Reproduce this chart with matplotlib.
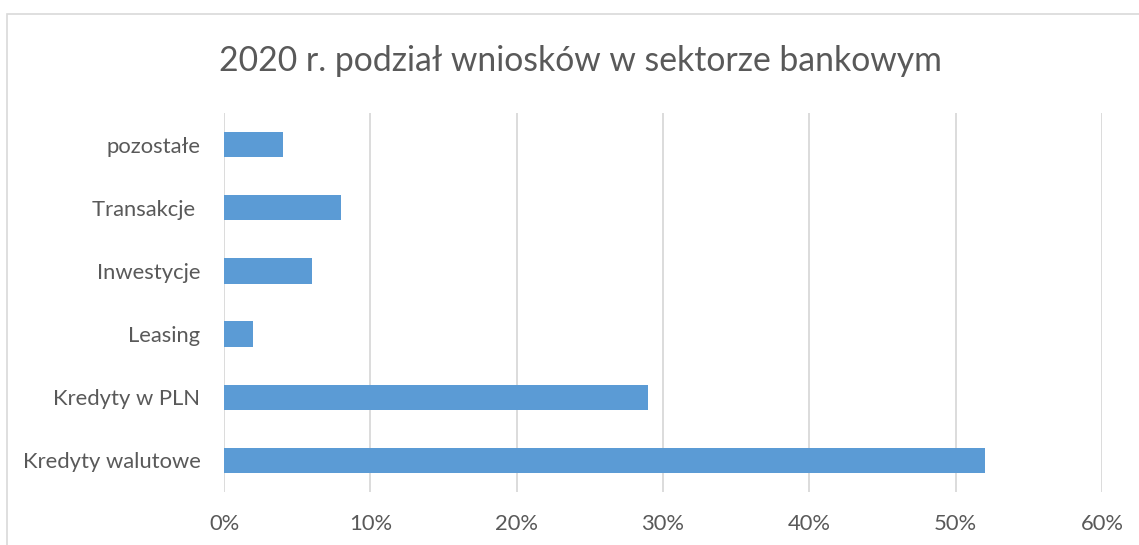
import matplotlib
matplotlib.use("Agg")
import matplotlib.pyplot as plt
from matplotlib.patches import Rectangle
from matplotlib.ticker import FuncFormatter, MultipleLocator

plt.rcParams['font.family'] = ['Lato', 'DejaVu Sans']

categories = ['Kredyty walutowe', 'Kredyty w PLN', 'Leasing', 'Inwestycje',
              'Transakcje ', 'pozostałe']
shares = [52, 29, 2, 6, 8, 4]
title = '2020 r. podział wniosków w sektorze bankowym'

text_color = '#595959'
bar_color = '#5B9BD5'
grid_color = '#D9D9D9'

W, H = 1139, 545
fig = plt.figure(figsize=(W / 100, H / 100), dpi=100)

# chart frame (runs off the right and bottom edges)
fig.patches.append(Rectangle((7 / W, -0.1), 1.2, 1 - 14 / H + 0.1,
                             transform=fig.transFigure, fill=False,
                             edgecolor=grid_color, linewidth=1.2))

ax = fig.add_axes([224 / W, 1 - 492 / H, (1102 - 224) / W, (492 - 113) / H])
y = range(len(categories))
ax.barh(y, shares, height=0.4, color=bar_color, zorder=3)

ax.set_xlim(0, 60)
ax.set_ylim(-0.5, len(categories) - 0.5)
ax.xaxis.set_major_locator(MultipleLocator(10))
ax.xaxis.set_major_formatter(FuncFormatter(lambda v, p: f'{v:.0f}%'))
ax.set_yticks(list(y))
ax.set_yticklabels(categories)

ax.grid(axis='x', color=grid_color, linewidth=1.3, zorder=0)
for s in ax.spines.values():
    s.set_visible(False)
ax.tick_params(axis='both', length=0, colors=text_color, labelsize=15.8)
ax.tick_params(axis='x', pad=16)
ax.tick_params(axis='y', pad=17)

fig.text(580 / W, 1 - 61 / H, title, ha='center', va='center',
         fontsize=24.3, color=text_color)

fig.savefig('out.png', dpi=100)
